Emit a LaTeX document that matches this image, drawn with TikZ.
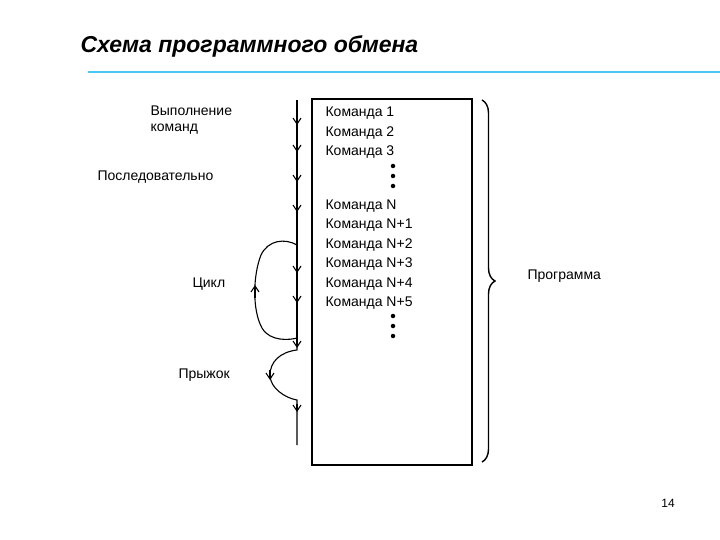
\documentclass[tikz,border=0pt]{standalone}
\usepackage{fontspec}
\setmainfont{Liberation Sans}
\usetikzlibrary{arrows.meta,decorations.pathreplacing}
\begin{document}
\begin{tikzpicture}[x=1pt,y=-1pt,line width=1.1pt,
  lbl/.style={font=\fontsize{14}{16}\selectfont,inner sep=0,anchor=west},
  cmd/.style={font=\fontsize{14}{16}\selectfont,inner sep=0,anchor=west},
  arr/.style={-{Straight Barb[length=6pt,width=8pt]}},
  dotc/.style={circle,fill,inner sep=0,minimum size=4.5}]
\useasboundingbox (0,0) rectangle (720,540);
\node[font=\fontsize{23}{26}\selectfont\bfseries\itshape,anchor=west,inner sep=0] (title) at (80,46) {Схема программного обмена};
\draw[cyan!70!white,line width=1.8] (88,72) -- (720,72);
\node[lbl,align=left,anchor=north west] (exec) at (150,105) {Выполнение\\команд};
\node[lbl] (seq) at (97,177) {Последовательно};
\node[lbl] (cyc) at (192,284) {Цикл};
\node[lbl] (jump) at (178,375) {Прыжок};
\draw[line width=2.2] (312,99) rectangle (472,465);
\draw (297,100) coordinate (t) -- (297,340);
\foreach \y in {125,152,182,212,273,303,348,412} \draw[arr] (297,\y-8) -- (297,\y);
\draw (297,245) .. controls (285,238) and (268,240) .. (261,255) .. controls (253,275) and (252,310) .. (262,328) .. controls (270,342) and (290,340) .. (297,338);
\draw[arr] (255,298) -- (255,285);
\draw (297,340) -- (297,350) .. controls (280,352) and (270,362) .. (270,375) .. controls (270,388) and (285,398) .. (297,400) -- (297,445);
\draw[arr] (270,370) -- (270,380);
\foreach \t/\y in {Команда 1/113,Команда 2/133,Команда 3/152,Команда N/206,Команда N+1/225,Команда N+2/245,Команда N+3/264,Команда N+4/284,Команда N+5/303}
  \node[cmd] at (325,\y) {\t};
\foreach \y in {166,176,186,316,326,336} \node[dotc] at (393,\y) {};
\draw[line width=1.4,decorate,decoration={brace,amplitude=13}] (482,100) -- (482,462);
\node[lbl] (prog) at (527,276) {Программа};
\node[font=\fontsize{12}{14}\selectfont] (pg) at (668,503) {14};
\end{tikzpicture}
\end{document}
